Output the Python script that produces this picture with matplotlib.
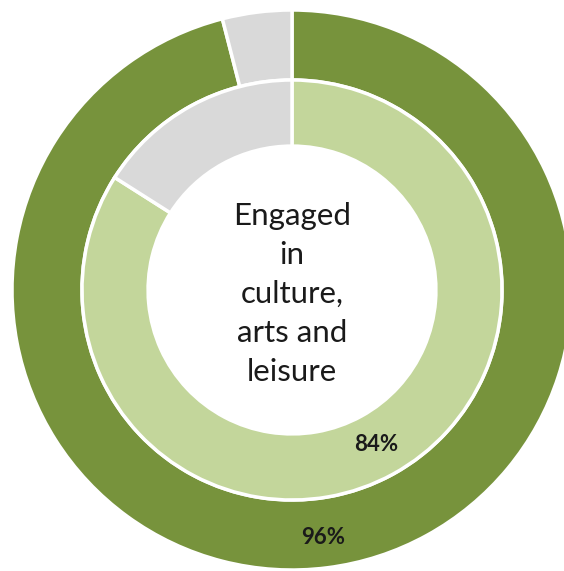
import matplotlib.pyplot as plt

# Share of people engaged, outer = 96%, inner = 84%
outer_values = [96, 4]
inner_values = [84, 16]
outer_colors = ['#77933C', '#D9D9D9']
inner_colors = ['#C3D69B', '#D9D9D9']
center_label = 'Engaged\nin\nculture,\narts and\nleisure'

fig = plt.figure(figsize=(5.64, 5.71), dpi=100)
ax = fig.add_axes([0, 0, 1, 1])

R = 280.0  # outer radius in pixels
cx, cy = 292.0, 290.0  # center, pixels from left / top


def first_only(values):
    def fmt(pct):
        return f'{round(pct):d}%' if round(pct) == values[0] else ''
    return fmt


ax.pie(outer_values, colors=outer_colors, radius=1.0, startangle=90, counterclock=False,
       wedgeprops=dict(width=0.25, edgecolor='white', linewidth=2.5),
       autopct=first_only(outer_values), pctdistance=0.89,
       textprops=dict(fontsize=16, fontweight='bold', color='#1a1a1a', family='Lato'))
ax.pie(inner_values, colors=inner_colors, radius=0.75, startangle=90, counterclock=False,
       wedgeprops=dict(width=0.236, edgecolor='white', linewidth=2.5),
       autopct=first_only(inner_values), pctdistance=0.837,
       textprops=dict(fontsize=16, fontweight='bold', color='#1a1a1a', family='Lato'))

ax.text(0, -0.015, center_label, ha='center', va='center', fontsize=22.5,
        family='Lato', color='#1a1a1a', linespacing=1.48)

ax.set_xlim(-cx / R, (564 - cx) / R)
ax.set_ylim(-(571 - cy) / R, cy / R)
ax.set_aspect('equal')
ax.axis('off')

fig.savefig('out.png', dpi=100, facecolor='white')
